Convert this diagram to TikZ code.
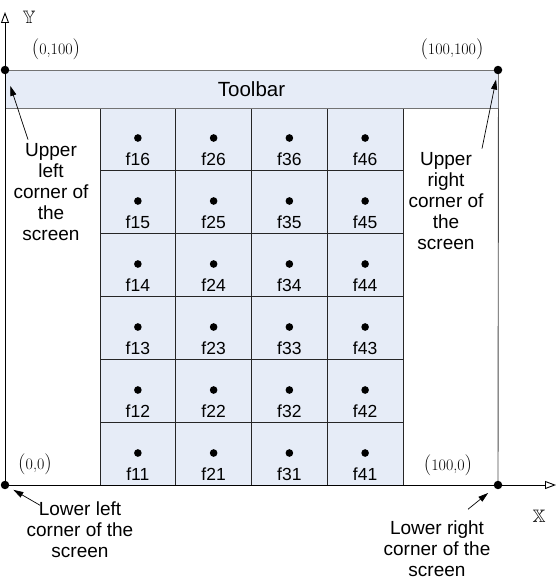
\documentclass[tikz,border=0pt]{standalone}
\usepackage{amssymb}
\usepackage{fontspec}
\setsansfont{Liberation Sans}
\usetikzlibrary{arrows.meta, positioning, calc}

\definecolor{panel}{RGB}{230,236,247}
\newcommand{\bigparen}[1]{{\fontsize{21}{21}\selectfont(}#1{\fontsize{21}{21}\selectfont)}}

\begin{document}
\begin{tikzpicture}[x=1pt, y=-1pt, line width=0.9pt,
        cell/.style={draw=black!85, fill=panel, minimum width=75.75pt, minimum height=63pt, inner sep=0pt},
        spot/.style={fill, circle, inner sep=2.7pt},
        corner/.style={fill, circle, inner sep=3pt},
        caption/.style={font=\sffamily\fontsize{19}{21}\selectfont, align=center},
        flabel/.style={font=\sffamily\fontsize{17.5}{19}\selectfont},
        coord/.style={font=\fontsize{16}{18}\selectfont},
        axis/.style={-{Triangle[open, length=11pt, width=8pt]}},
        pointer/.style={line width=0.7pt, -{Triangle[length=10pt, width=6pt]}}
    ]
        \useasboundingbox (0,0) rectangle (557,585);

        % screen cells
        \foreach \i in {1,...,4} {
            \foreach \j in {1,...,6} {
                \pgfmathsetmacro{\cx}{100+75.75*(\i-0.5)}
                \pgfmathsetmacro{\rowtop}{485-63*\j}
                \node[cell] (c\i\j) at (\cx, \rowtop+31.5) {};
                \node[spot] (d\i\j) at (\cx, \rowtop+31) {};
                \node[flabel] (f\i\j) at (\cx, \rowtop+52) {f\i\j};
            }
        }

        \node[draw=black!55, fill=panel, minimum width=493pt, minimum height=38pt,
            font=\sffamily\fontsize{20.5}{22}\selectfont] (toolbar) at (251.5, 89) {Toolbar};

        \coordinate (ytip) at (5,12);
        \coordinate (xtip) at (556,485);
        \coordinate (o) at (5,485);

        \draw[black!70] (toolbar.south east) -- (498,485);
        \draw[axis] (o) -- (ytip);
        \draw[axis] (o) -- (xtip);

        \node[corner] (ul) at (5,70) {};
        \node[corner] (ur) at (498,70) {};
        \node[corner] (ll) at (5,485) {};
        \node[corner] (lr) at (498,485) {};

        \node[coord] (pul) at (56,49) {\bigparen{0,100}};
        \node[coord] (pur) at (452,49) {\bigparen{100,100}};
        \node[coord] (pll) at (35,464) {\bigparen{0,0}};
        \node[coord] (plr) at (448,465) {\bigparen{100,0}};
        \node[font=\fontsize{18}{20}\selectfont] (ylab) at (29,17) {$\mathbb{Y}$};
        \node[font=\fontsize{18}{20}\selectfont] (xlab) at (539,516) {$\mathbb{X}$};

        \node[caption] (ultxt) at (51,192) {Upper\\left\\corner of\\the\\screen};
        \node[caption] (urtxt) at (446,201) {Upper\\right\\corner of\\the\\screen};
        \node[caption] (lltxt) at (80,530) {Lower left\\corner of the\\screen};
        \node[caption] (lrtxt) at (437,549) {Lower right\\corner of the\\screen};

        \draw[pointer, shorten >=12pt] ([xshift=-23pt]ultxt.north) -- (ul);
        \draw[pointer, shorten >=5pt] ([xshift=36pt]urtxt.north) -- (ur);
        \draw[pointer, shorten >=5pt] ([xshift=-40pt, yshift=-7pt]lltxt.north) -- (ll);
        \draw[pointer, shorten >=8pt] ([xshift=31pt, yshift=8pt]lrtxt.north) -- (lr);
    \end{tikzpicture}
\end{document}
